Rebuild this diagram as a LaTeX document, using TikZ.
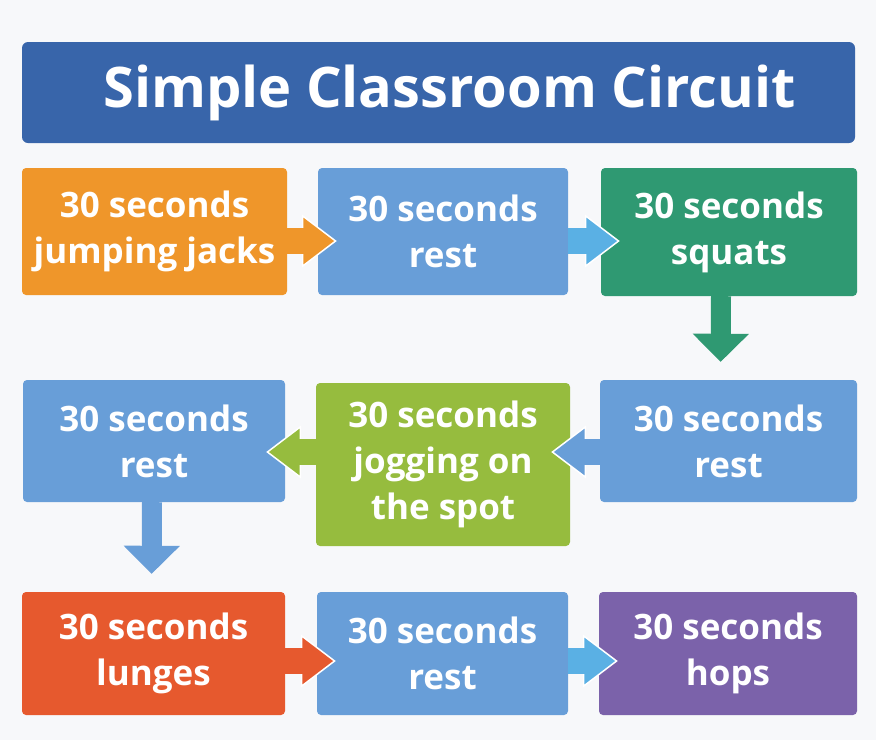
\documentclass[tikz,border=0pt]{standalone}
\usepackage{fontspec}
\setmainfont{Open Sans}
\usetikzlibrary{arrows.meta, calc}
\usepackage{xcolor}
\definecolor{bgcolor}{RGB}{247,248,250}
\definecolor{titleblue}{RGB}{56,101,170}
\definecolor{jackorange}{RGB}{239,150,42}
\definecolor{restblue}{RGB}{104,158,216}
\definecolor{squatgreen}{RGB}{47,153,114}
\definecolor{flowblue}{RGB}{90,176,228}
\definecolor{joggreen}{RGB}{150,188,62}
\definecolor{lungered}{RGB}{230,89,46}
\definecolor{hoppurple}{RGB}{123,98,170}
\tikzstyle{titlebar} = [rectangle, rounded corners=6pt, fill=titleblue, text=white, minimum width=833pt, minimum height=101pt, inner sep=0pt, font=\fontsize{56}{68}\selectfont\bfseries]
\tikzstyle{exercise} = [rectangle, rounded corners=4pt, align=center, text=white, inner sep=0pt, font=\fontsize{35}{46}\selectfont\bfseries]
\tikzstyle{hshaft} = [line width=26pt]
\tikzstyle{vshaft} = [line width=20pt]
% block arrow: head with white rim, then shaft again over the rim
\newcommand{\hflow}[3]{%
  \draw[hshaft, draw=#1, shorten >=-19pt, -{Triangle[length=35pt, width=53pt, line width'=1.5pt, color=white, fill=#1]}] (#2) -- (#3);
  \draw[hshaft, draw=#1, shorten >=14pt] (#2) -- (#3);}
\newcommand{\vflow}[3]{%
  \draw[vshaft, draw=#1, shorten >=18pt, -{Triangle[length=28pt, width=56pt, line width'=1pt, color=#1, fill=#1]}] (#2) -- (#3);}

\begin{document}
\begin{tikzpicture}[x=1pt, y=-1pt]

% Background
\fill[bgcolor] (0,0) rectangle (876,740);

% Title
\node[titlebar] (title) at (438.5,92.5) {\hspace*{22pt}\raisebox{-4pt}{Simple Classroom Circuit}};

% Row 1
\node[exercise, fill=jackorange, minimum width=265pt, minimum height=127pt] (jacks) at (154.5,231.5) {30 seconds\\jumping jacks};
\node[exercise, fill=restblue, minimum width=250pt, minimum height=127pt] (rest1) at (443,231.5) {30 seconds\\rest};
\node[exercise, fill=squatgreen, minimum width=256pt, minimum height=128pt] (squats) at (729,232) {30 seconds\\squats};

% Row 2
\node[exercise, fill=restblue, minimum width=262pt, minimum height=122pt] (rest2) at (154,441) {30 seconds\\rest};
\node[exercise, fill=joggreen, minimum width=254pt, minimum height=163pt] (jogging) at (443,464.5) {30 seconds\\jogging on\\the spot};
\node[exercise, fill=restblue, minimum width=257pt, minimum height=122pt] (rest3) at (728.5,441) {30 seconds\\rest};

% Row 3
\node[exercise, fill=lungered, minimum width=263pt, minimum height=123pt] (lunges) at (153.5,653.5) {30 seconds\\lunges};
\node[exercise, fill=restblue, minimum width=251pt, minimum height=123pt] (rest4) at (442.5,653.5) {30 seconds\\rest};
\node[exercise, fill=hoppurple, minimum width=258pt, minimum height=123pt] (hops) at (728,653.5) {30 seconds\\hops};

% Arrow heights
\coordinate (row1) at (0,241);
\coordinate (row2) at (0,452);
\coordinate (row3) at (0,661);

% Flow
\hflow{jackorange}{jacks.east |- row1}{rest1.west |- row1}
\hflow{flowblue}{rest1.east |- row1}{squats.west |- row1}
\vflow{squatgreen}{[xshift=-8pt]squats.south}{[xshift=-8pt]rest3.north}
\hflow{restblue}{rest3.west |- row2}{jogging.east |- row2}
\hflow{joggreen}{jogging.west |- row2}{rest2.east |- row2}
\vflow{restblue}{[xshift=-2pt]rest2.south}{[xshift=-2pt]lunges.north}
\hflow{lungered}{lunges.east |- row3}{rest4.west |- row3}
\hflow{flowblue}{rest4.east |- row3}{hops.west |- row3}

\end{tikzpicture}
\end{document}
